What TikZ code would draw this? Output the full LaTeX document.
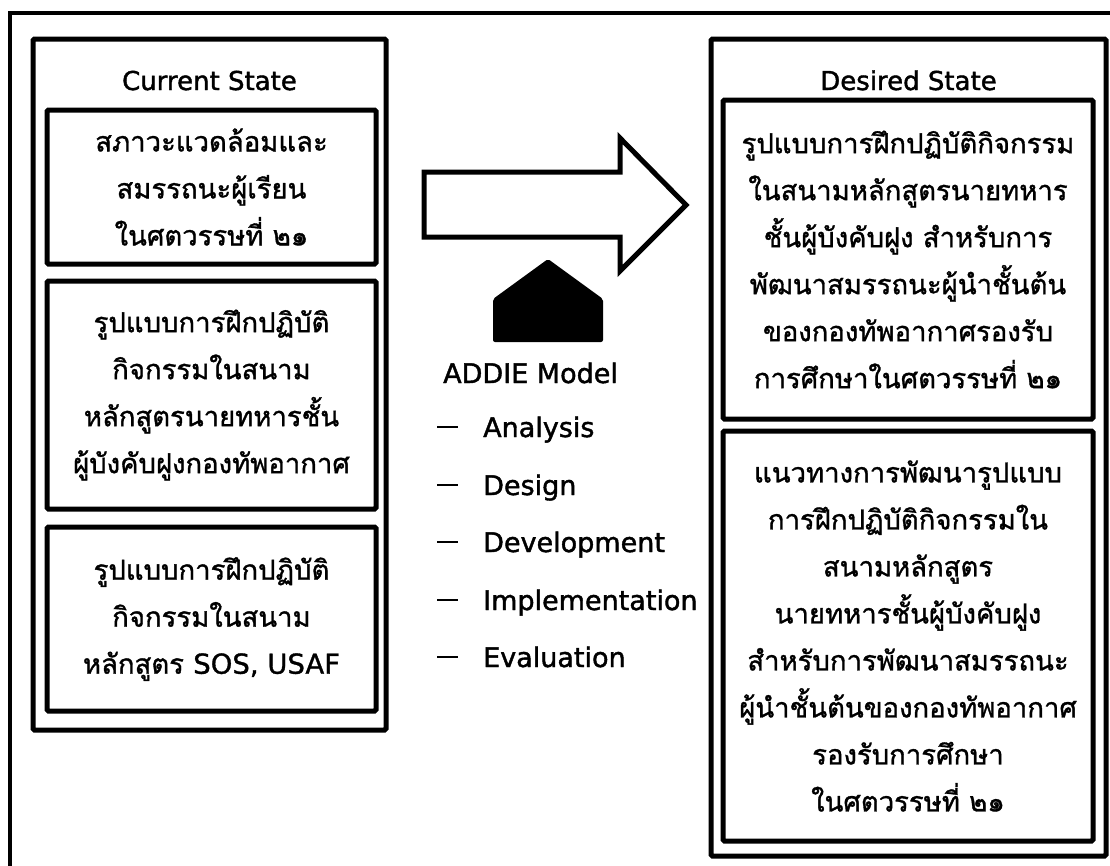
\documentclass[tikz,border=0pt]{standalone}
\usepackage{fontspec}
\setmainfont{DejaVu Sans}[FakeBold=1.5]
\newfontfamily\thai[Script=Thai, FakeBold=1.2]{Loma}
\newfontfamily\latn[FakeBold=1.2]{DejaVu Sans}
\begin{document}
\begin{tikzpicture}[x=1pt,y=-1pt,
  box/.style={draw=black, line width=5pt, rounded corners=1.5pt, inner sep=0pt, outer sep=0pt, align=center},
  thaitxt/.style={font=\thai\fontsize{27.5}{47}\selectfont},
  titletxt/.style={font=\fontsize{26}{30}\selectfont, anchor=base, inner sep=0pt},
  itemtxt/.style={font=\fontsize{27}{30}\selectfont, anchor=base west, inner sep=0pt}]
\useasboundingbox (0,0) rectangle (1110,865);
\clip (0,0) rectangle (1110,865);
% outer frame
\draw[line width=4.5pt] (10,880) -- (10,13) -- (1125,13);

% current state column
\node[box, minimum width=353pt, minimum height=691pt] (cur) at (209.5,384.5) {};
\node[titletxt] (curt) at (209.5,90) {Current State};
\node[box, thaitxt, minimum width=329pt, minimum height=154pt] (c1) at (211.5,187)
  {สภาวะแวดล้อมและ\\สมรรถนะผู้เรียน\\ในศตวรรษที่ ๒๑};
\node[box, thaitxt, minimum width=329pt, minimum height=228pt] (c2) at (211.5,395)
  {รูปแบบการฝึกปฏิบัติ\\กิจกรรมในสนาม\\หลักสูตรนายทหารชั้น\\ผู้บังคับฝูงกองทัพอากาศ};
\node[box, thaitxt, minimum width=329pt, minimum height=184pt] (c3) at (211.5,619)
  {รูปแบบการฝึกปฏิบัติ\\กิจกรรมในสนาม\\หลักสูตร {\latn SOS, USAF}};

% desired state column
\node[box, minimum width=395pt, minimum height=817pt] (des) at (908.5,447.5) {};
\node[titletxt] (dest) at (908.5,90) {Desired State};
\node[box, thaitxt, minimum width=370pt, minimum height=319pt] (d1) at (908,259.5)
  {รูปแบบการฝึกปฏิบัติกิจกรรม\\ในสนามหลักสูตรนายทหาร\\ชั้นผู้บังคับฝูง สำหรับการ\\พัฒนาสมรรถนะผู้นำชั้นต้น\\ของกองทัพอากาศรองรับ\\การศึกษาในศตวรรษที่ ๒๑};
\node[box, thaitxt, minimum width=370pt, minimum height=410pt] (d2) at (908,636)
  {แนวทางการพัฒนารูปแบบ\\การฝึกปฏิบัติกิจกรรมใน\\สนามหลักสูตร\\นายทหารชั้นผู้บังคับฝูง\\สำหรับการพัฒนาสมรรถนะ\\ผู้นำชั้นต้นของกองทัพอากาศ\\รองรับการศึกษา\\ในศตวรรษที่ ๒๑};

% big arrow
\draw[line width=5pt, fill=white] (424,172) -- (620,172) -- (620,138) -- (686,205)
  -- (620,271) -- (620,237) -- (424,237) -- cycle;
% house shape
\fill[rounded corners=2pt] (493,342) -- (493,299) -- (548,259) -- (603,299) -- (603,342) -- cycle;

% ADDIE list
\node[itemtxt] (addie) at (443,383) {ADDIE Model};
\node[itemtxt] (i1) at (437,437) {\makebox[46pt][l]{\rule[9pt]{21pt}{2pt}}Analysis};
\node[itemtxt] (i2) at (437,495) {\makebox[46pt][l]{\rule[9pt]{21pt}{2pt}}Design};
\node[itemtxt] (i3) at (437,552) {\makebox[46pt][l]{\rule[9pt]{21pt}{2pt}}Development};
\node[itemtxt] (i4) at (437,610) {\makebox[46pt][l]{\rule[9pt]{21pt}{2pt}}Implementation};
\node[itemtxt] (i5) at (437,667) {\makebox[46pt][l]{\rule[9pt]{21pt}{2pt}}Evaluation};
\end{tikzpicture}
\end{document}
